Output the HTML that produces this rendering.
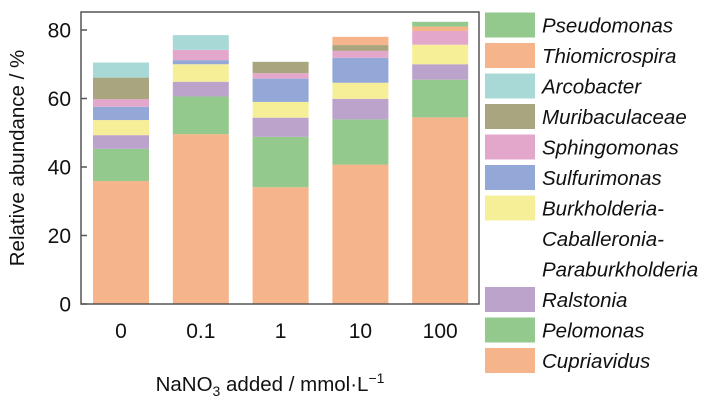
<!DOCTYPE html>
<html><head><meta charset="utf-8"><style>
body{margin:0;background:#fff;}
svg text{font-family:"Liberation Sans",sans-serif;fill:#111;}
</style></head><body>
<svg id="chart" width="728" height="404" viewBox="0 0 728 404">
<g id="bars"></g>
<rect x="81" y="12" width="398" height="292" fill="none" stroke="#555" stroke-width="1.5"/>
<g id="axes"></g>
<g id="legend"></g>
<text x="24" y="158" font-size="20.5" text-anchor="middle" transform="rotate(-90 24 158)">Relative abundance / %</text>
<text x="270" y="391" font-size="20.5" text-anchor="middle">NaNO<tspan font-size="14" dy="5">3</tspan><tspan dy="-5"> added / mmol·L</tspan><tspan font-size="14" dy="-8">−1</tspan></text>
</svg>
<script>
const categories=["0","0.1","1","10","100"];
const seriesNames=["Cupriavidus","Pelomonas","Ralstonia","Burkholderia","Sulfurimonas","Sphingomonas","Muribaculaceae","Arcobacter","Thiomicrospira","Pseudomonas"];
const seriesColors=["#f5b48a","#93c98c","#bca3cb","#f7ef98","#93a8d6","#e4a7cc","#a9a57f","#a9d9d6","#f5b48a","#93c98c"];
const cupriavidus=[35.9,49.6,34.1,40.7,54.5];
const pelomonas=[9.4,11.0,14.7,13.2,11.0];
const ralstonia=[4.0,4.3,5.6,6.0,4.5];
const burkholderia=[4.4,5.1,4.6,4.7,5.7];
const sulfurimonas=[3.9,1.2,6.8,7.3,0];
const sphingomonas=[2.2,3.0,1.6,2.0,4.0];
const muribaculaceae=[6.3,0,3.3,1.7,0];
const arcobacter=[4.4,4.3,0,0,0];
const thiomicrospira=[0,0,0,2.4,1.3];
const pseudomonas=[0,0,0,0,1.4];
const yTicks=[0,20,40,60,80];
const legendLabels=["Pseudomonas","Thiomicrospira","Arcobacter","Muribaculaceae","Sphingomonas","Sulfurimonas","Burkholderia-","Caballeronia-","Paraburkholderia","Ralstonia","Pelomonas","Cupriavidus"];
const legendColors=["#93c98c","#f5b48a","#a9d9d6","#a9a57f","#e4a7cc","#93a8d6","#f7ef98",null,null,"#bca3cb","#93c98c","#f5b48a"];

const series=[cupriavidus,pelomonas,ralstonia,burkholderia,sulfurimonas,sphingomonas,muribaculaceae,arcobacter,thiomicrospira,pseudomonas];
const NS="http://www.w3.org/2000/svg";
const y=v=>304-v*3.425;
const x=i=>93+i*79.8;
const bw=56;
const bars=document.getElementById('bars');
categories.forEach((c,i)=>{
  let acc=0;
  series.forEach((s,k)=>{
    const v=s[i]; if(!v) return;
    const r=document.createElementNS(NS,'rect');
    r.setAttribute('x',x(i));r.setAttribute('width',bw);
    r.setAttribute('y',y(acc+v));r.setAttribute('height',y(acc)-y(acc+v));
    r.setAttribute('fill',seriesColors[k]);
    
    
    bars.appendChild(r);
    acc+=v;
  });
});
const axes=document.getElementById('axes');
yTicks.forEach(t=>{
  const l=document.createElementNS(NS,'line');
  l.setAttribute('x1',81);l.setAttribute('x2',87);l.setAttribute('y1',y(t));l.setAttribute('y2',y(t));
  l.setAttribute('stroke','#555');l.setAttribute('stroke-width','1.5');
  
  
  axes.appendChild(l);
  const tx=document.createElementNS(NS,'text');
  tx.setAttribute('x',71);tx.setAttribute('y',y(t)+7.5);tx.setAttribute('font-size','21');tx.setAttribute('text-anchor','end');
  tx.textContent=t;
  
  
  axes.appendChild(tx);
});
categories.forEach((c,i)=>{
  const tx=document.createElementNS(NS,'text');
  tx.setAttribute('x',x(i)+bw/2);tx.setAttribute('y',338);tx.setAttribute('font-size','21');tx.setAttribute('text-anchor','middle');
  tx.textContent=c;
  
  
  axes.appendChild(tx);
});
const lg=document.getElementById('legend');
legendLabels.forEach((lab,i)=>{
  const cy=25+i*30.5;
  if(legendColors[i]){
    const r=document.createElementNS(NS,'rect');
    r.setAttribute('x',485);r.setAttribute('y',cy-12.5);r.setAttribute('width',50);r.setAttribute('height',25);
    r.setAttribute('fill',legendColors[i]);
    
    
    lg.appendChild(r);
  }
  const tx=document.createElementNS(NS,'text');
  tx.setAttribute('x',542);tx.setAttribute('y',cy+7.5);tx.setAttribute('font-size','20.5');tx.setAttribute('font-style','italic');
  tx.textContent=lab;
  
  
  lg.appendChild(tx);
});
</script>
</body></html>
